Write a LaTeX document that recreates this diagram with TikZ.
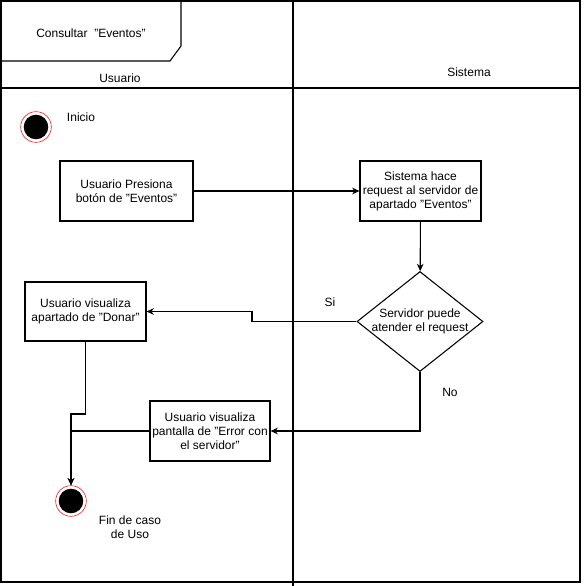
\documentclass[tikz,border=0pt]{standalone}
\usepackage{fontspec}
\setmainfont{Liberation Sans}
\usetikzlibrary{shapes.geometric,arrows.meta}

\tikzset{
  actbox/.style={draw,thick,fill=white,inner sep=0pt,align=center,font=\fontsize{9}{10.5}\selectfont},
  decbox/.style={draw,thick,diamond,inner sep=0pt,minimum width=94.5pt,minimum height=75pt},
  txt/.style={inner sep=0pt,align=center,font=\fontsize{9}{10.5}\selectfont},
  statenode/.style={circle,draw=red,fill=white,minimum size=23pt,inner sep=0pt,
    path picture={\fill[black] (path picture bounding box.center) circle (9.2pt);}},
  flow/.style={thick,-{Stealth[length=5.5pt,width=5pt]}}
}

\begin{document}
\begin{tikzpicture}[x=0.75pt,y=-0.75pt]
					\useasboundingbox (0,0) rectangle (583,586);
					\draw[thick] (1,1) rectangle (580,582);
					\draw[thick] (293,1) -- (293,586);
					\draw[thick] (1,88) -- (580,88);
					\draw[thick] (181,1) -- (181,46) -- (170,61) -- (1,61);

					\node[txt] (titulo) at (91,33) {Consultar\ \ "Eventos"};
					\node[txt] (usuario) at (120,78) {Usuario};
					\node[txt] (sistema) at (469,72) {Sistema};

					\node[statenode] (inicio) at (36,127) {};
					\node[txt] (lblinicio) at (81,117) {Inicio};

					\node[actbox,minimum width=99.75pt,minimum height=45pt] (presiona) at (126.5,191) {Usuario Presiona\\botón de "Eventos"};
					\node[actbox,minimum width=90.75pt,minimum height=45pt] (request) at (420.5,191) {Sistema hace\\request al servidor de\\apartado "Eventos"};
					\node[decbox] (servidor) at (420,321.5) {};
					\node[txt] (lblservidor) at (servidor.center) {Servidor puede\\atender el request};
					\node[actbox,minimum width=90.75pt,minimum height=44.25pt] (donar) at (85.5,311.5) {Usuario visualiza\\apartado de "Donar"};
					\node[actbox,minimum width=90pt,minimum height=45pt] (error) at (210,431) {Usuario visualiza\\pantalla de "Error con\\el servidor"};
					\node[statenode] (fin) at (71,501) {};
					\node[txt] (lblfin) at (130,527) {Fin de caso\\de Uso};

					\node[txt] (si) at (330,302) {Si};
					\node[txt] (no) at (450,392) {No};

					\draw[flow] (presiona) -- (request);
					\draw[flow] (request) -- (servidor);
					\draw[flow] (servidor.west) -- (252,321.5) -- (252,311.5) -- (donar.east);
					\draw[flow] (servidor.south) -- (420,431) -- (error.east);
					\draw[flow] (donar.south) -- (85.5,414) -- (71,414) -- (fin.north);
					\draw[flow] (error.west) -- (71,431) -- (fin.north);
\end{tikzpicture}
\end{document}
